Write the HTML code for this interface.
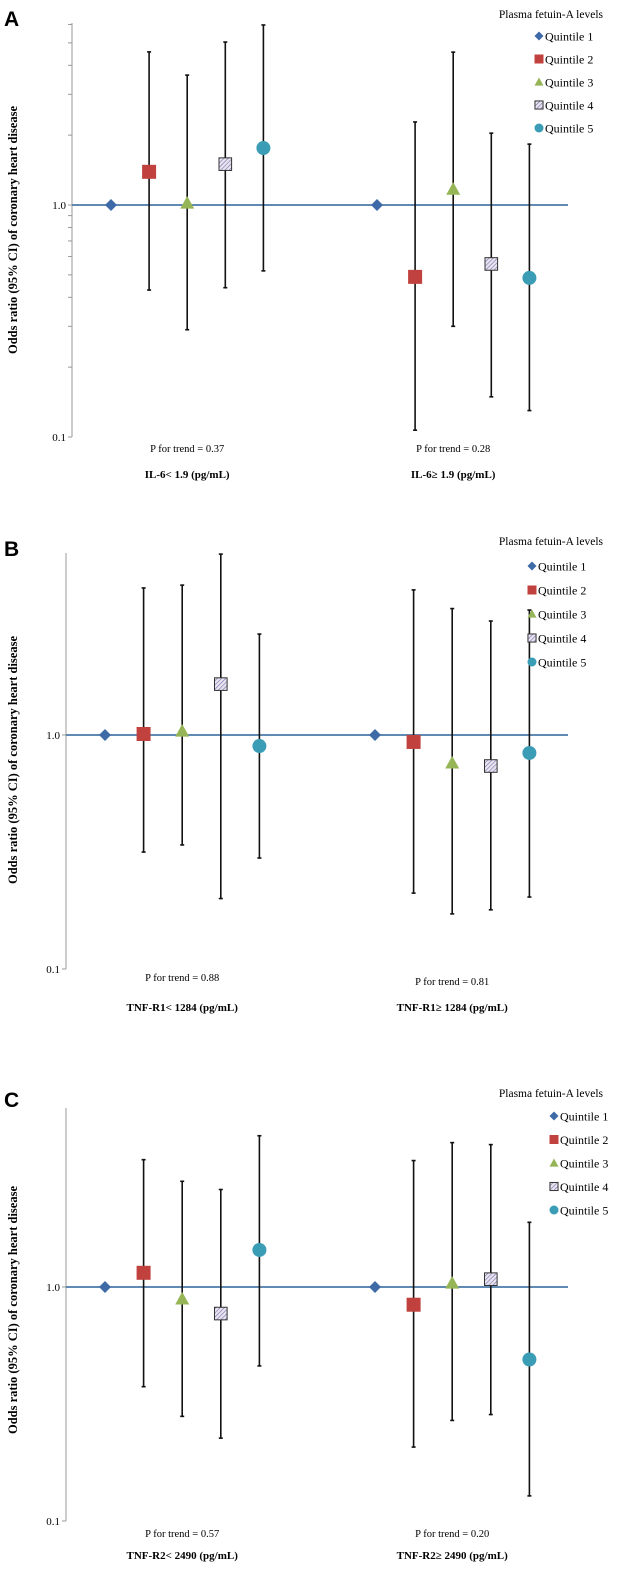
<!DOCTYPE html>
<html><head><meta charset="utf-8"><style>
html,body{margin:0;padding:0;background:#fff}
svg{display:block}
text{font-family:"Liberation Serif",serif}
</style></head><body>
<svg id="fig" width="617" height="1569" viewBox="0 0 617 1569" xmlns="http://www.w3.org/2000/svg">
<defs>
<pattern id="hatch" patternUnits="userSpaceOnUse" width="3" height="3" patternTransform="rotate(45)">
<rect width="3" height="3" fill="#e8e4f0"/><line x1="0" y1="0" x2="0" y2="3" stroke="#7a6fa8" stroke-width="1.2"/>
</pattern>
</defs>
</svg>
<script>
const quintiles = ["Quintile 1","Quintile 2","Quintile 3","Quintile 4","Quintile 5"];
const panelLetters = ["A","B","C"];
const groupLabels = [["IL-6< 1.9 (pg/mL)","IL-6\u2265 1.9 (pg/mL)"],["TNF-R1< 1284 (pg/mL)","TNF-R1\u2265 1284 (pg/mL)"],["TNF-R2< 2490 (pg/mL)","TNF-R2\u2265 2490 (pg/mL)"]];
const pTrend = [["P for trend = 0.37","P for trend = 0.28"],["P for trend = 0.88","P for trend = 0.81"],["P for trend = 0.57","P for trend = 0.20"]];
// odds ratios per panel: [group1 Q1..Q5, group2 Q1..Q5]
const orA = [[1.0,1.39,1.02,1.50,1.76],[1.0,0.49,1.17,0.557,0.485]];
const loA = [[null,0.43,0.29,0.44,0.52],[null,0.107,0.30,0.149,0.13]];
const hiA = [[null,4.57,3.63,5.04,5.97],[null,2.28,4.56,2.04,1.83]];
const orB = [[1.0,1.01,1.04,1.65,0.897],[1.0,0.934,0.76,0.737,0.838]];
const loB = [[null,0.316,0.339,0.20,0.298],[null,0.211,0.172,0.179,0.203]];
const hiB = [[null,4.25,4.37,5.93,2.70],[null,4.17,3.47,3.07,3.42]];
const orC = [[1.0,1.15,0.89,0.77,1.44],[1.0,0.84,1.04,1.08,0.49]];
const loC = [[null,0.375,0.28,0.226,0.46],[null,0.207,0.269,0.285,0.128]];
const hiC = [[null,3.50,2.83,2.61,4.43],[null,3.47,4.14,4.06,1.89]];
const yTicks = [0.1, 1.0];
const yTickLabels = ["0.1","1.0"];

const NS="http://www.w3.org/2000/svg";
const svg=document.getElementById('fig');
function mk(tag,attrs,parent){const e=document.createElementNS(NS,tag);for(const k in attrs)e.setAttribute(k,attrs[k]);(parent||svg).appendChild(e);return e;}
const colorsPt=["#3e6aa8","#c0413e","#95b556","url(#hatch)","#3a9db5"];
const panels=[
 {or:orA,lo:loA,hi:hiA,y1:205,y01:437,axX:72,top:23,g1x:111,g2x:377,dx:38.1,end:568,minor:true,letterY:18,legT:14,legY:36,legDy:23,legMx:539,pY:[452,452],lY:478,mid:230},
 {or:orB,lo:loB,hi:hiB,y1:735,y01:969,axX:66,top:553,g1x:105,g2x:375,dx:38.6,end:568,minor:false,letterY:548,legT:541,legY:566,legDy:24,legMx:532,pY:[981,985],lY:1011,mid:760},
 {or:orC,lo:loC,hi:hiC,y1:1287,y01:1521,axX:66,top:1108,g1x:105,g2x:375,dx:38.6,end:568,minor:false,letterY:1099,legT:1093,legY:1116,legDy:23.5,legMx:554,pY:[1537,1537],lY:1559,mid:1310}
];
function marker(g,q,x,y,s){
 let e;
 if(q===0){e=mk('polygon',{points:`${x},${y-s} ${x+s},${y} ${x},${y+s} ${x-s},${y}`,fill:colorsPt[0]},g);}
 else if(q===1){e=mk('rect',{x:x-s,y:y-s,width:2*s,height:2*s,fill:colorsPt[1]},g);}
 else if(q===2){e=mk('polygon',{points:`${x},${y-s} ${x+s},${y+s*0.8} ${x-s},${y+s*0.8}`,fill:colorsPt[2]},g);}
 else if(q===3){e=mk('rect',{x:x-s*0.9,y:y-s*0.9,width:1.8*s,height:1.8*s,fill:colorsPt[3],stroke:'#333','stroke-width':1},g);}
 else {e=mk('circle',{cx:x,cy:y,r:s,fill:colorsPt[4]},g);}
 return e;
}
panels.forEach((p,pi)=>{
 const D=p.y01-p.y1;
 const yS=v=>p.y1-Math.log10(v)*D;
 const g=mk('g',{});
 
 
 const L=mk('text',{x:4,y:p.letterY+8,'font-size':21,'font-weight':'bold',style:'font-family:"Liberation Sans",sans-serif'},g);L.textContent=panelLetters[pi];
 
 const ax=mk('line',{x1:p.axX,y1:p.top,x2:p.axX,y2:p.y01,stroke:'#999','stroke-width':1},g);
 
 const topV=Math.pow(10,(p.y1-p.top)/D);
 if(p.minor){for(let d=-1;d<=0;d++)for(let m=1;m<10;m++){const v=m*Math.pow(10,d);if(v>topV)continue;const yy=yS(v);mk('line',{x1:p.axX-4,y1:yy,x2:p.axX,y2:yy,stroke:'#999'},g);}}
 yTicks.forEach((t,i)=>{const yy=yS(t);mk('line',{x1:p.axX-4,y1:yy,x2:p.axX,y2:yy,stroke:'#999'},g);
  const tt=mk('text',{x:p.axX-6,y:yy+4,'font-size':11,'text-anchor':'end'},g);tt.textContent=yTickLabels[i];
  });
 const yt=mk('text',{x:0,y:0,'font-size':12.5,'font-weight':'bold','text-anchor':'middle',transform:`translate(17,${p.mid}) rotate(-90)`},g);
 yt.textContent='Odds ratio (95% CI) of coronary heart disease';
 
 const ref=mk('line',{x1:p.axX,y1:yS(1),x2:p.end,y2:yS(1),stroke:'#4a7aa8','stroke-width':1.8},g);
 
 [p.g1x,p.g2x].forEach((gx,gi)=>{
  for(let q=0;q<5;q++){
   const x=gx+q*p.dx;
   if(p.hi[gi][q]!==null){
    const el=mk('line',{x1:x,y1:yS(p.hi[gi][q]),x2:x,y2:yS(p.lo[gi][q]),stroke:'#111','stroke-width':1.6},g);
    
    mk('line',{x1:x-2,y1:yS(p.hi[gi][q]),x2:x+2,y2:yS(p.hi[gi][q]),stroke:'#111','stroke-width':1.6},g);
    mk('line',{x1:x-2,y1:yS(p.lo[gi][q]),x2:x+2,y2:yS(p.lo[gi][q]),stroke:'#111','stroke-width':1.6},g);
   }
   const m=marker(g,q,x,yS(p.or[gi][q]),q===0?6:7);
   
  }
  const cx=gx+2*p.dx;
  const pt=mk('text',{x:cx,y:p.pY[gi],'font-size':10.5,'text-anchor':'middle'},g);pt.textContent=pTrend[pi][gi];
  
  const gl=mk('text',{x:cx,y:p.lY,'font-size':11,'font-weight':'bold','text-anchor':'middle'},g);gl.textContent=groupLabels[pi][gi];
  
 });
 const lt=mk('text',{x:603,y:p.legT+4,'font-size':11.5,'text-anchor':'end'},g);lt.textContent='Plasma fetuin-A levels';
 
 quintiles.forEach((qn,q)=>{
  const yy=p.legY+q*p.legDy;
  const lm=marker(g,q,p.legMx,yy,4.5);
  
  const tx=mk('text',{x:p.legMx+6,y:yy+4.5,'font-size':12},g);tx.textContent=qn;
  
 });
});
</script>
</body></html>
